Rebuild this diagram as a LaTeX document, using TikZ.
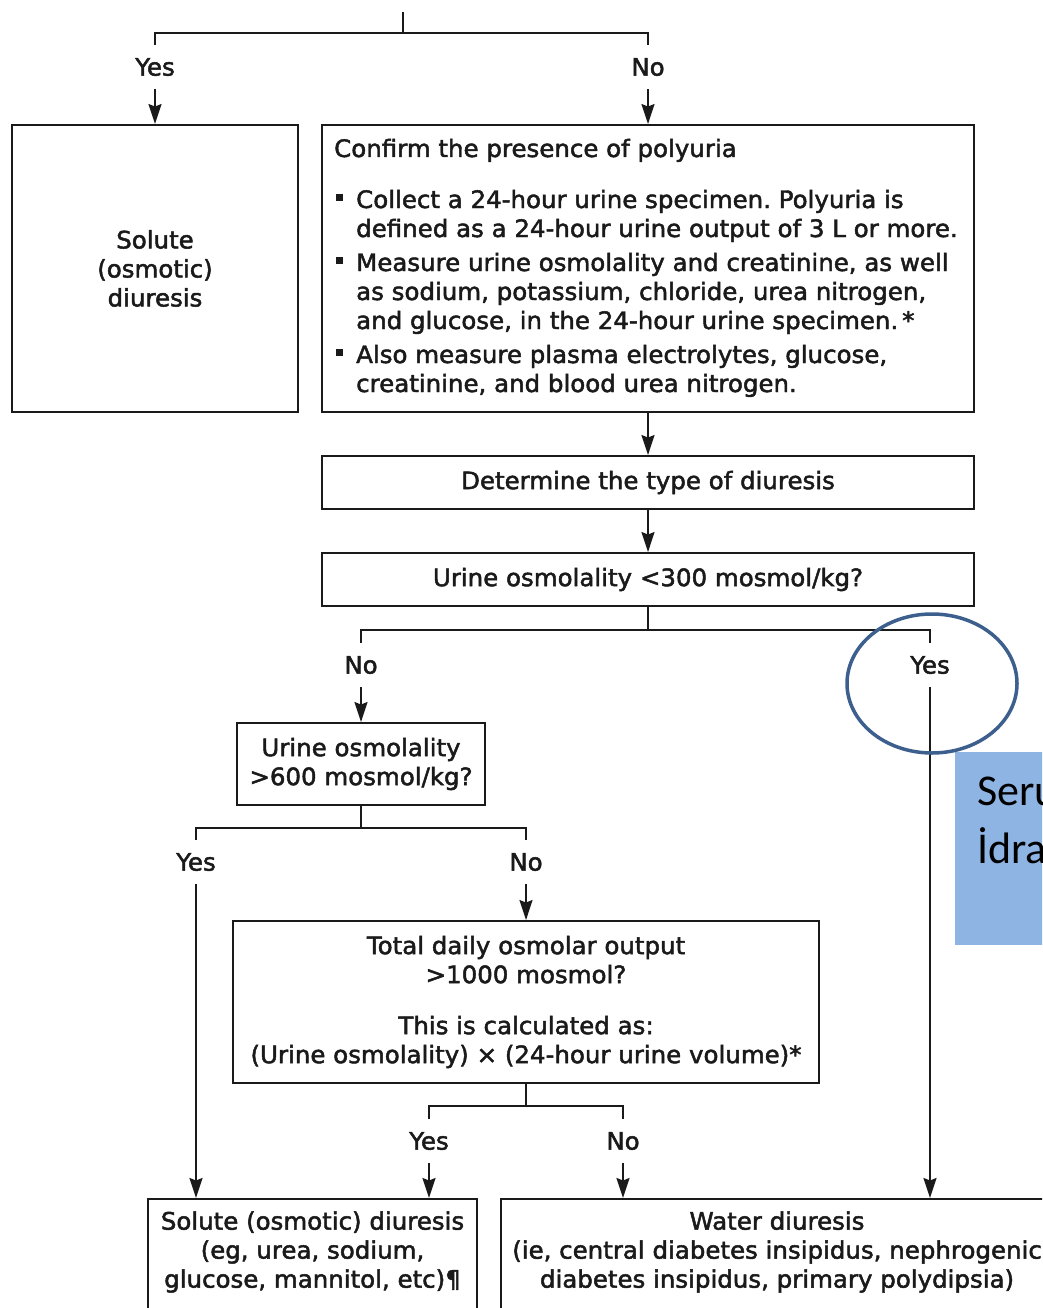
\documentclass[tikz,border=0pt]{standalone}
\usepackage{fontspec}
\setmainfont{DejaVu Sans}[FakeBold=2,FakeStretch=1.02]
\newfontfamily\annfont{Carlito}
\usetikzlibrary{arrows.meta}
\definecolor{ink}{HTML}{1A1A1A}
\definecolor{annblue}{HTML}{8EB4E3}
\definecolor{annring}{HTML}{3C5F8E}
\frenchspacing
\begin{document}
\begin{tikzpicture}[x=1pt,y=-1pt,
 every node/.style={text=ink, font=\fontsize{24}{29}\selectfont},
 box/.style={draw=ink, line width=1.9pt, inner sep=0pt, align=center},
 lbl/.style={inner sep=0pt, minimum height=44pt},
 conn/.style={draw=ink, line width=1.9pt},
 arr/.style={conn, -{Stealth[length=20pt,width=13pt,inset=2.5pt]}},
 ln/.style={anchor=base west, inner sep=0pt}]
\useasboundingbox[fill=white] (0,0) rectangle (1042,1308);
\begin{scope}
\clip (0,0) rectangle (1042,1308);

% boxes
\node[box, minimum width=286pt, minimum height=287pt] (solA) at (155,268.5) {Solute\\(osmotic)\\diuresis};
\node[box, minimum width=652pt, minimum height=287pt] (conf) at (648,268.5) {};
\node[box, minimum width=652pt, minimum height=53pt] (det) at (648,482.5) {Determine the type of diuresis};
\node[box, minimum width=652pt, minimum height=53pt] (u300) at (648,579.5) {Urine osmolality <300 mosmol/kg?};
\node[box, minimum width=248pt, minimum height=82pt] (u600) at (361,764) {Urine osmolality\\>600 mosmol/kg?};
\node[box, minimum width=586pt, minimum height=162pt] (tot) at (526,1002) {Total daily osmolar output\\>1000 mosmol?\\[22pt]This is calculated as:\\(Urine osmolality) × (24-hour urine volume)*};
\node[box, anchor=north, minimum width=329pt, minimum height=130pt] (solB) at (312.5,1198) {};
\node[align=center, inner sep=0pt] (solBt) at (312.5,1252) {Solute (osmotic) diuresis\\(eg, urea, sodium,\\glucose, mannitol, etc)¶};
\node[box, anchor=north, minimum width=552pt, minimum height=130pt] (wat) at (777,1198) {};
\node[align=center, inner sep=0pt] (watt) at (777,1252) {Water diuresis\\(ie, central diabetes insipidus, nephrogenic\\diabetes insipidus, primary polydipsia)};

% confirm box text
\node[ln] (c0) at (334,157) {Confirm the presence of polyuria};
\node[ln] (c1) at (356,208) {Collect a 24-hour urine specimen. Polyuria is};
\node[ln] (c2) at (356,237) {defined as a 24-hour urine output of 3 L or more.};
\node[ln] (c3) at (356,271) {Measure urine osmolality and creatinine, as well};
\node[ln] (c4) at (356,300) {as sodium, potassium, chloride, urea nitrogen,};
\node[ln] (c5) at (356,329) {and glucose, in the 24-hour urine specimen.\,*};
\node[ln] (c6) at (356,363) {Also measure plasma electrolytes, glucose,};
\node[ln] (c7) at (356,392) {creatinine, and blood urea nitrogen.};
\fill[ink] (336,194) rectangle (343,201);
\fill[ink] (336,257) rectangle (343,264);
\fill[ink] (336,349) rectangle (343,356);

% labels
\node[lbl] (y1) at (155,67) {Yes};
\node[lbl] (n1) at (648,67) {No};
\node[lbl] (n2) at (361,665) {No};
\node[lbl] (y2) at (930,665) {Yes};
\node[lbl] (y3) at (196,862) {Yes};
\node[lbl] (n3) at (526,862) {No};
\node[lbl] (y4) at (429,1141) {Yes};
\node[lbl] (n4) at (623,1141) {No};

\coordinate (top) at (403,12);
\coordinate (s1) at (403,33);
\coordinate (s2) at (648,630);
\coordinate (s3) at (361,828);
\coordinate (s4) at (526,1106);

% connectors
\draw[conn] (top) -- (s1);
\draw[conn] (y1.north) |- (s1) -| (n1.north);
\draw[arr] (y1.south) -- (solA.north);
\draw[arr] (n1.south) -- (conf.north);
\draw[arr] (conf.south) -- (det.north);
\draw[arr] (det.south) -- (u300.north);
\draw[conn] (u300.south) -- (s2);
\draw[conn] (n2.north) |- (s2) -| (y2.north);
\draw[arr] (n2.south) -- (u600.north);
\draw[arr] (y2.south) -- (y2.south |- wat.north);
\draw[conn] (u600.south) -- (s3);
\draw[conn] (y3.north) |- (s3) -| (n3.north);
\draw[arr] (y3.south) -- (y3.south |- solB.north);
\draw[arr] (n3.south) -- (tot.north);
\draw[conn] (tot.south) -- (s4);
\draw[conn] (y4.north) |- (s4) -| (n4.north);
\draw[arr] (y4.south) -- (y4.south |- solB.north);
\draw[arr] (n4.south) -- (n4.south |- wat.north);

% annotation
\fill[annblue] (955,752) rectangle (1060,945);
\node[ln, font=\annfont\fontsize{44}{50}\selectfont, text=black] (ann1) at (977,805) {Seru};
\node[ln, font=\annfont\fontsize{44}{50}\selectfont, text=black] (ann2) at (977,863) {İdra};
\draw[annring, line width=3.5pt] (932,683.5) ellipse [x radius=85, y radius=69.5];
\end{scope}
\end{tikzpicture}
\end{document}
